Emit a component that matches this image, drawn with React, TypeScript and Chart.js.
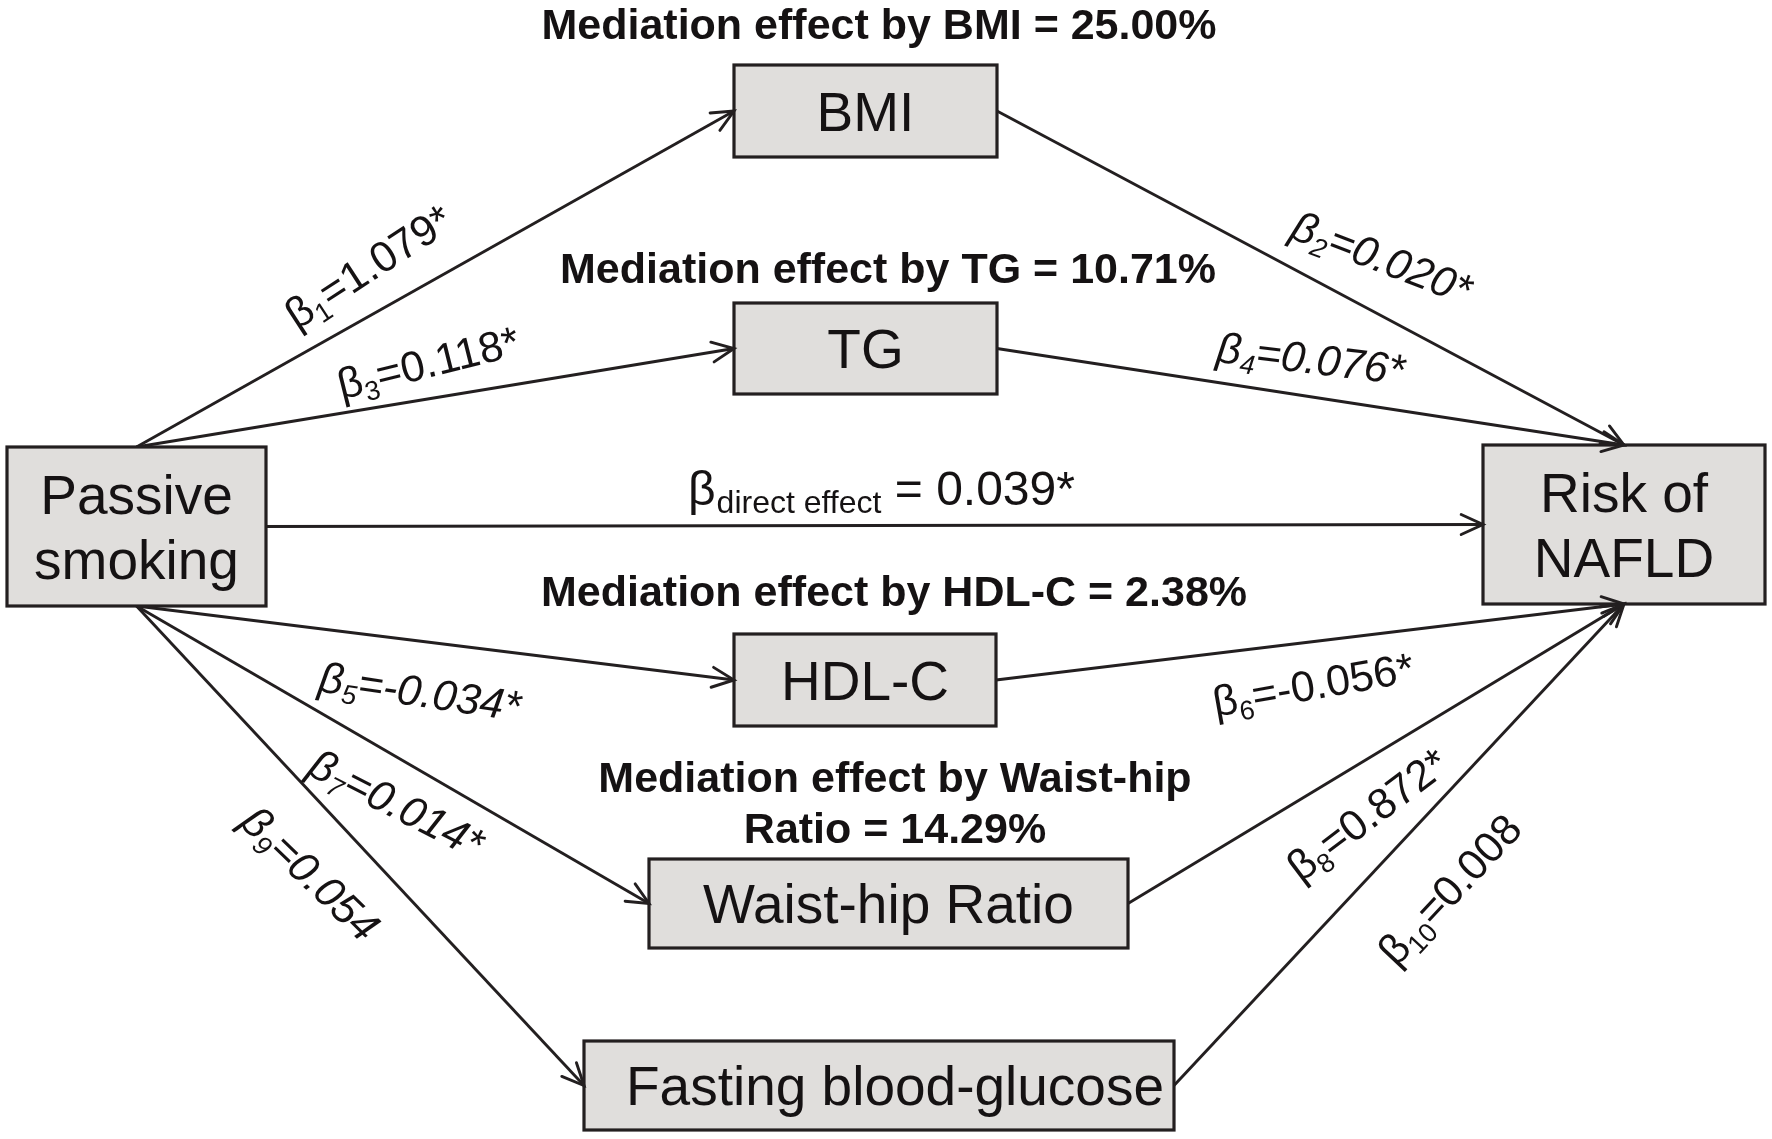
import React, { useEffect, useRef } from "react";
import { Chart, registerables } from "chart.js";

Chart.register(...registerables);

const W = 1772;
const H = 1139;
const FONT = '"Liberation Sans", Arial, Helvetica, sans-serif';

// ---------- data ----------
const nodeLabels: string[][] = [
  ["Passive", "smoking"],
  ["BMI"],
  ["TG"],
  ["HDL-C"],
  ["Waist-hip Ratio"],
  ["Fasting blood-glucose"],
  ["Risk of", "NAFLD"],
];
const nodeX = [136.5, 865.5, 865.5, 865, 888.5, 879, 1624];
const nodeY = [526.5, 111, 348.5, 680, 903.5, 1085.5, 524.5];

// edges (path coefficients)
const edgeFrom = [0, 1, 0, 2, 0, 0, 3, 0, 4, 0, 5];
const edgeTo = [1, 6, 2, 6, 6, 3, 6, 4, 6, 5, 6];
const betaSub = ["1", "2", "3", "4", "direct effect", "5", "6", "7", "8", "9", "10"];
const betaValue = ["1.079*", "0.020*", "0.118*", "0.076*", "0.039*", "-0.034*", "-0.056*", "0.014*", "0.872*", "0.054", "0.008"];

// mediation effects
const mediatorNames = ["BMI", "TG", "HDL-C", "Waist-hip Ratio"];
const mediationPct = ["25.00", "10.71", "2.38", "14.29"];

// ---------- layout (sizes / styles) ----------
const boxW = [259, 263, 263, 262, 479, 590, 282];
const boxH = [159, 92, 91, 92, 89, 89, 159];
const nodeTextDx = [0, 0, 0, 0, 0, 16, 0];
const edgeFromSide = ["T", "R", "T", "R", "R", "B", "R", "B", "R", "B", "R"];
const edgeToSide = ["L", "T", "L", "T", "L", "L", "B", "L", "B", "L", "B"];
const labelX = [368, 1382, 428, 1311, 688, 420, 1313, 397, 1367, 311, 1449];
const labelY = [266, 257, 362, 358, 505, 691, 684, 803, 814, 873, 889];
const labelAngle = [-33, 21, -14, 7, 0, 8.5, -10, 27, -37, 44, -47];
const labelItalic = [false, true, false, true, false, true, false, true, false, true, false];
const titleX = [879, 888, 894, 895];
const titleY = [39, 283, 606, 792];
const titleLine2Y = 843;

const INK = "#231f20";
const TEXT = "#151213";
const BOX_FILL = "#e0dedc";

function attach(i: number, side: string) {
  const cx = nodeX[i], cy = nodeY[i], w = boxW[i], h = boxH[i];
  if (side === "T") return { x: cx, y: cy - h / 2 };
  if (side === "B") return { x: cx, y: cy + h / 2 };
  if (side === "L") return { x: cx - w / 2, y: cy };
  return { x: cx + w / 2, y: cy };
}

const diagramPlugin = {
  id: "diagram",
  beforeDraw(chart: any) {
    const ctx = chart.ctx;
    ctx.save();
    ctx.fillStyle = "#ffffff";
    ctx.fillRect(0, 0, chart.width, chart.height);
    ctx.restore();
  },
  afterDatasetsDraw(chart: any) {
    const ctx: CanvasRenderingContext2D = chart.ctx;
    const xs = chart.scales.x;
    const ys = chart.scales.y;
    const px = (v: number) => xs.getPixelForValue(v);
    const py = (v: number) => ys.getPixelForValue(v);
    ctx.save();

    // boxes
    for (let i = 0; i < nodeX.length; i++) {
      const x0 = px(nodeX[i] - boxW[i] / 2);
      const x1 = px(nodeX[i] + boxW[i] / 2);
      const y0 = py(nodeY[i] - boxH[i] / 2);
      const y1 = py(nodeY[i] + boxH[i] / 2);
      ctx.fillStyle = BOX_FILL;
      ctx.fillRect(x0, y0, x1 - x0, y1 - y0);
      ctx.strokeStyle = INK;
      ctx.lineWidth = 3.2;
      ctx.strokeRect(x0, y0, x1 - x0, y1 - y0);
      // label
      const fs = 55;
      ctx.font = `${fs}px ${FONT}`;
      ctx.fillStyle = TEXT;
      ctx.textAlign = "center";
      ctx.textBaseline = "alphabetic";
      const lines = nodeLabels[i];
      const cap = fs * 0.716;
      const gap = 65;
      const cx = px(nodeX[i] + nodeTextDx[i]);
      const cy = py(nodeY[i]);
      lines.forEach((ln, k) => {
        const off = (k - (lines.length - 1) / 2) * gap;
        ctx.fillText(ln, cx, cy + off + cap / 2);
      });
    }

    // arrowheads
    chart.data.datasets.forEach((ds: any) => {
      const a = ds.data[0], b = ds.data[1];
      const ax = px(a.x), ay = py(a.y), bx = px(b.x), by = py(b.y);
      const ang = Math.atan2(by - ay, bx - ax);
      const len = 24, spread = 0.43;
      ctx.strokeStyle = INK;
      ctx.lineWidth = 2.9;
      ctx.lineCap = "round";
      ctx.lineJoin = "miter";
      ctx.beginPath();
      ctx.moveTo(bx - len * Math.cos(ang - spread), by - len * Math.sin(ang - spread));
      ctx.lineTo(bx, by);
      ctx.lineTo(bx - len * Math.cos(ang + spread), by - len * Math.sin(ang + spread));
      ctx.stroke();
    });

    // coefficient labels
    ctx.fillStyle = TEXT;
    for (let i = 0; i < betaSub.length; i++) {
      if (betaSub[i] === "direct effect") {
        const fs = 48, sfs = 32;
        let x = px(labelX[i]);
        const y = py(labelY[i]);
        ctx.textAlign = "left";
        ctx.textBaseline = "alphabetic";
        ctx.font = `${fs}px ${FONT}`;
        ctx.fillText("β", x, y);
        x += ctx.measureText("β").width + 1;
        ctx.font = `${sfs}px ${FONT}`;
        ctx.fillText(betaSub[i], x, y + 8);
        x += ctx.measureText(betaSub[i]).width;
        ctx.font = `${fs}px ${FONT}`;
        ctx.fillText(" = " + betaValue[i], x, y);
        continue;
      }
      const fs = 43, sfs = 27;
      const style = labelItalic[i] ? "italic " : "";
      const mainFont = `${style}${fs}px ${FONT}`;
      const subFont = `${style}${sfs}px ${FONT}`;
      ctx.font = mainFont;
      const wB = ctx.measureText("β").width;
      const rest = "=" + betaValue[i];
      const wR = ctx.measureText(rest).width;
      ctx.font = subFont;
      const wS = ctx.measureText(betaSub[i]).width;
      const total = wB + wS + wR;
      ctx.save();
      ctx.translate(px(labelX[i]), py(labelY[i]));
      ctx.rotate((labelAngle[i] * Math.PI) / 180);
      const base = (fs * 0.716) / 2;
      let x = -total / 2;
      ctx.textAlign = "left";
      ctx.textBaseline = "alphabetic";
      ctx.font = mainFont;
      ctx.fillText("β", x, base);
      x += wB;
      ctx.font = subFont;
      ctx.fillText(betaSub[i], x, base + 8);
      x += wS;
      ctx.font = mainFont;
      ctx.fillText(rest, x, base);
      ctx.restore();
    }

    // mediation titles
    ctx.font = `bold 43px ${FONT}`;
    ctx.textAlign = "center";
    ctx.textBaseline = "alphabetic";
    ctx.fillStyle = TEXT;
    for (let i = 0; i < mediatorNames.length; i++) {
      if (mediatorNames[i] === "Waist-hip Ratio") {
        ctx.fillText("Mediation effect by Waist-hip", px(titleX[i]), py(titleY[i]));
        ctx.fillText(`Ratio = ${mediationPct[i]}%`, px(titleX[i]), py(titleLine2Y));
      } else {
        ctx.fillText(`Mediation effect by ${mediatorNames[i]} = ${mediationPct[i]}%`, px(titleX[i]), py(titleY[i]));
      }
    }
    ctx.restore();
  },
};

export default function App() {
  const ref = useRef<HTMLCanvasElement | null>(null);
  useEffect(() => {
    if (!ref.current) return;
    const datasets = edgeFrom.map((f, i) => {
      const a = attach(f, edgeFromSide[i]);
      const b = attach(edgeTo[i], edgeToSide[i]);
      return {
        label: "β" + betaSub[i],
        data: [a, b],
        showLine: true,
        borderColor: INK,
        borderWidth: 2.9,
        pointRadius: 0,
        fill: false,
        tension: 0,
        clip: false as any,
      };
    });
    const chart = new Chart(ref.current, {
      type: "scatter",
      data: { datasets },
      options: {
        animation: false,
        responsive: false,
        events: [],
        layout: { padding: 0 },
        plugins: { legend: { display: false }, tooltip: { enabled: false } },
        scales: {
          x: { type: "linear", min: 0, max: W, display: false },
          y: { type: "linear", min: 0, max: H, reverse: true, display: false },
        },
      },
      plugins: [diagramPlugin],
    });
    return () => chart.destroy();
  }, []);
  return (
    <div style={{ position: "absolute", left: 0, top: 0, width: W, height: H, background: "#fff" }}>
      <canvas ref={ref} width={W} height={H} style={{ display: "block" }} />
    </div>
  );
}
